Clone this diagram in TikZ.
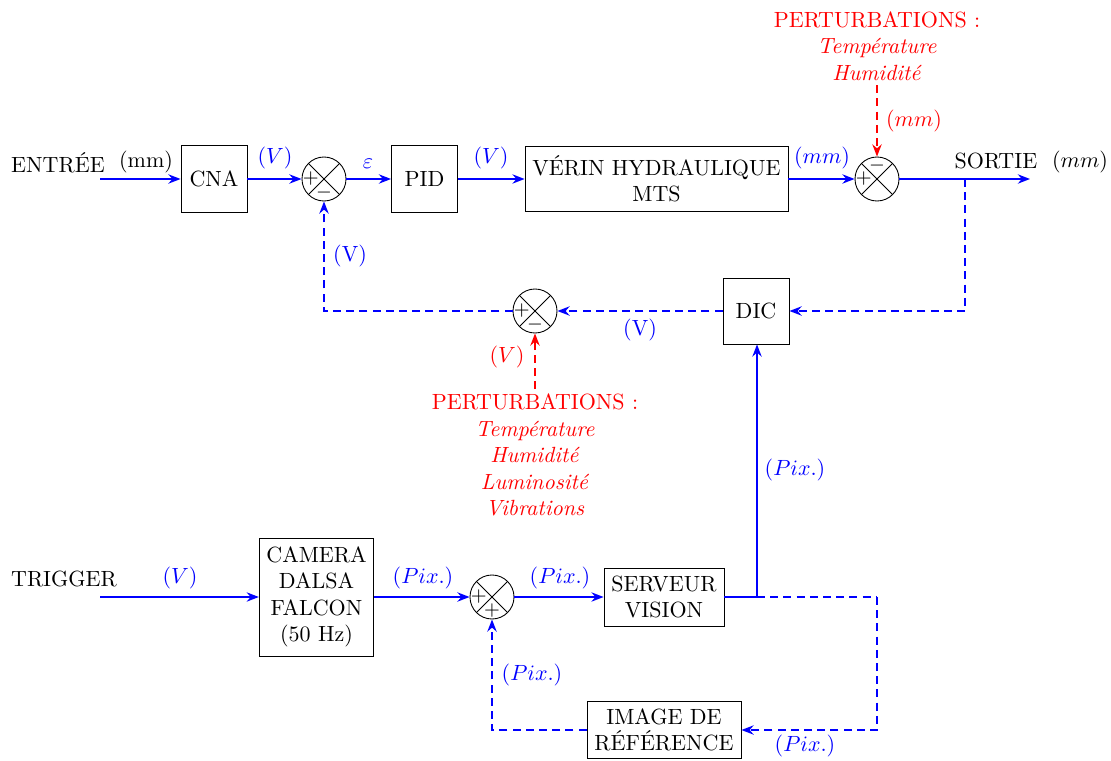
\documentclass[tikz,border=0pt]{standalone}
\usepackage{fontspec}
\usetikzlibrary{arrows.meta}
\begin{document}
\begin{tikzpicture}[x=0.4545pt,y=-0.4545pt,
  blk/.style={draw, align=center, inner sep=2pt},
  sumn/.style={draw, circle, minimum size=20pt, inner sep=0pt,
    path picture={\draw (path picture bounding box.north west) -- (path picture bounding box.south east)
                        (path picture bounding box.north east) -- (path picture bounding box.south west);}},
  sgn/.style={inner sep=0pt, font=\small},
  sig/.style={draw=blue, line width=1.1pt, -{Stealth[length=5.5pt,width=4.2pt]}},
  sigl/.style={draw=blue, line width=1.1pt},
  fb/.style={sig, dash pattern=on 3.6pt off 2.4pt},
  fbl/.style={sigl, dash pattern=on 3.6pt off 2.4pt},
  pert/.style={draw=red, line width=1.1pt, dash pattern=on 3.6pt off 2.4pt, -{Stealth[length=5.5pt,width=4.2pt]}},
  bl/.style={text=blue, inner sep=1pt},
  rd/.style={text=red, inner sep=1pt},
  ptxt/.style={text=red, align=center, inner sep=2pt}
]
\useasboundingbox (0,0) rectangle (1111,761);

% top chain
\node (entree) at (58,163) {ENTRÉE};
\node (entreeu) at (146,162) {(mm)};
\coordinate (in) at (100,179);
\node[blk, minimum width=30pt, minimum height=30.5pt] (cna) at (214,179) {CNA};
\node[sumn] (s1) at (324,179) {};
\node[blk, minimum width=30pt, minimum height=30.5pt] (pid) at (424.5,179) {PID};
\node[blk, minimum width=119.5pt, minimum height=29.5pt] (verin) at (656.5,179) {VÉRIN HYDRAULIQUE\\MTS};
\node[sumn] (s2) at (877,179) {};
\coordinate (out) at (1030,179);
\coordinate (tap) at (965,179);
\node (sortie) at (996,161) {SORTIE};
\node (sortieu) at (1080,162) {$(mm)$};

% signs
\node[sgn] at ([xshift=-6pt]s1.center) {$+$};
\node[sgn] at ([yshift=-6pt]s1.center) {$-$};
\node[sgn] at ([xshift=-6pt]s2.center) {$+$};
\node[sgn] at ([yshift=6pt]s2.center) {$-$};

% feedback middle
\node[blk, minimum width=30pt, minimum height=30pt] (dic) at (756,311) {DIC};
\node[sumn] (s3) at (535,311) {};
\node[sgn] at ([xshift=-6pt]s3.center) {$+$};
\node[sgn] at ([yshift=-6pt]s3.center) {$-$};

% perturbations
\node[ptxt] (p1) at (877,46) {PERTURBATIONS :\\\textit{Température}\\\textit{Humidité}};
\node[ptxt] (p2) at (535,455) {PERTURBATIONS :\\\textit{Température}\\\textit{Humidité}\\\textit{Luminosité}\\\textit{Vibrations}};

% bottom chain
\node (trigger) at (64,579) {TRIGGER};
\coordinate (tin) at (100,597);
\node[blk, minimum width=52pt, minimum height=53.6pt] (cam) at (316.5,597) {CAMERA\\DALSA\\FALCON\\(50 Hz)};
\node[sumn] (s4) at (492,597) {};
\node[sgn] at ([xshift=-6pt]s4.center) {$+$};
\node[sgn] at ([yshift=-6pt]s4.center) {$+$};
\node[blk, minimum width=54.5pt, minimum height=26.4pt] (serv) at (664,597) {SERVEUR\\VISION};
\node[blk, minimum width=70pt, minimum height=26pt] (img) at (664,730) {IMAGE DE\\RÉFÉRENCE};
\coordinate (j) at (757,597);
\coordinate (c2) at (877,597);

% connectors top
\draw[sig] (in) -- (cna);
\draw[sig] (cna) -- (s1);
\draw[sig] (s1) -- (pid);
\draw[sig] (pid) -- (verin);
\draw[sig] (verin) -- (s2);
\draw[sig] (s2) -- (out);
\draw[fb] (tap) |- (dic);
\draw[fb] (dic) -- (s3);
\draw[fb] (s3) -| (s1);
\draw[pert] (p1) -- (s2);
\draw[pert] (p2) -- (s3);

% connectors bottom
\draw[sig] (tin) -- (cam);
\draw[sig] (cam) -- (s4);
\draw[sig] (s4) -- (serv);
\draw[sigl] (serv) -- (j);
\draw[sig] (j) -- (j |- dic.south);
\draw[fbl] (j) -- (c2);
\draw[fb] (c2) |- (img);
\draw[fb] (img) -| (s4);

% labels
\node[bl] at (275,158) {$(V)$};
\node[bl] at (368,164) {$\varepsilon$};
\node[bl] at (491,158) {$(V)$};
\node[bl] at (822,158) {$(mm)$};
\node[rd] at (914,121) {$(mm)$};
\node[bl] at (350,256) {(V)};
\node[bl] at (640,330) {(V)};
\node[rd] at (507,357) {$(V)$};
\node[bl] at (180,578) {$(V)$};
\node[bl] at (423,578) {$(Pix.)$};
\node[bl] at (560,578) {$(Pix.)$};
\node[bl] at (795,470) {$(Pix.)$};
\node[bl] at (532,675) {$(Pix.)$};
\node[bl] at (805,746) {$(Pix.)$};
\end{tikzpicture}
\end{document}
